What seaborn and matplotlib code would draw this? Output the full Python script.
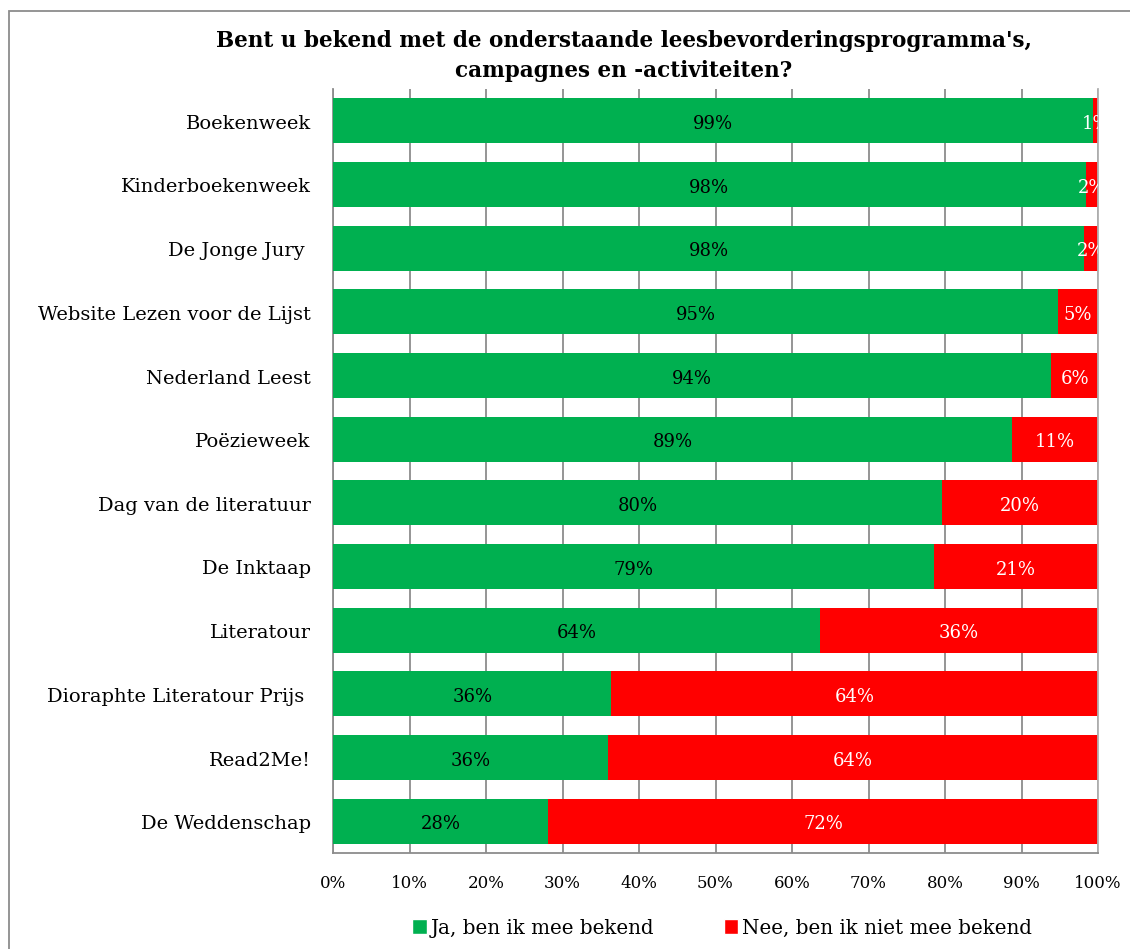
import matplotlib
matplotlib.use("Agg")
import matplotlib.pyplot as plt
import matplotlib.transforms as mtransforms
import seaborn as sns
import pandas as pd
import numpy as np
from matplotlib.patches import Rectangle, Patch
from matplotlib.ticker import FixedLocator

categories = ["Boekenweek", "Kinderboekenweek", "De Jonge Jury ", "Website Lezen voor de Lijst",
              "Nederland Leest", "Poëzieweek", "Dag van de literatuur", "De Inktaap",
              "Literatour", "Dioraphte Literatour Prijs ", "Read2Me!", "De Weddenschap"]
ja = [99.4, 98.4, 98.2, 94.8, 93.9, 88.8, 79.6, 78.6, 63.6, 36.4, 35.9, 28.1]
nee = [0.6, 1.6, 1.8, 5.2, 6.1, 11.2, 20.4, 21.4, 36.4, 63.6, 64.1, 71.9]
series_names = ["Ja, ben ik mee bekend", "Nee, ben ik niet mee bekend"]
xticks = [0, 10, 20, 30, 40, 50, 60, 70, 80, 90, 100]
title = "Bent u bekend met de onderstaande leesbevorderingsprogramma's,\ncampagnes en -activiteiten?"

GREEN = "#00B050"
RED = "#FF0000"

sns.set_style("white")
plt.rcParams["font.family"] = ["DejaVu Serif"]
plt.rcParams["text.color"] = "black"
plt.rcParams["xtick.color"] = "black"
plt.rcParams["ytick.color"] = "black"
plt.rcParams["axes.labelcolor"] = "black"

df = pd.DataFrame({"cat": categories, "ja": ja, "nee": nee})
df["total"] = df["ja"] + df["nee"]

fig = plt.figure(figsize=(11.3, 9.49), dpi=100)
ax = fig.add_axes([333/1130, 1-853/949, (1098-333)/1130, (853-89)/949])

sns.barplot(data=df, y="cat", x="total", color=RED, width=0.71, ax=ax,
            orient="h", saturation=1, zorder=2, edgecolor="none")
sns.barplot(data=df, y="cat", x="ja", color=GREEN, width=0.71, ax=ax,
            orient="h", saturation=1, zorder=3, edgecolor="none")

n = len(categories)
for i in range(n):
    ax.text(df["ja"][i] / 2, i + 0.05, f"{round(df['ja'][i])}%", ha="center", va="center",
            fontsize=13, color="black", zorder=5)
    ax.text(df["ja"][i] + df["nee"][i] / 2, i + 0.05, f"{round(df['nee'][i])}%", ha="center",
            va="center", fontsize=13, color="white", zorder=5, clip_on=True)

ax.set_xlim(0, 100)
ax.set_ylim(n - 0.5, -0.5)
ax.xaxis.set_major_locator(FixedLocator(xticks))
ax.set_xticklabels([f"{v}%" for v in xticks], fontsize=12)
ax.tick_params(axis="x", length=0, pad=16)
ax.grid(axis="x", color="#8c8c8c", linewidth=1.3, zorder=0)
ax.set_axisbelow(True)
ax.set_xlabel("")
ax.set_ylabel("")
ax.tick_params(axis="y", which="major", length=0, labelsize=14, pad=16)
shift = mtransforms.ScaledTranslation(0, -3/100, fig.dpi_scale_trans)
for lbl in ax.get_yticklabels():
    lbl.set_va("center")
    lbl.set_transform(lbl.get_transform() + shift)
ax.yaxis.set_minor_locator(FixedLocator(np.arange(-0.5, n, 1.0)))
ax.tick_params(axis="y", which="minor", length=7, width=1.3, color="#8c8c8c", direction="out")

for s in ["left", "bottom"]:
    ax.spines[s].set_color("#8c8c8c")
    ax.spines[s].set_linewidth(1.3)
ax.spines["top"].set_visible(False)
ax.spines["right"].set_color("#b0b0b0")
ax.spines["right"].set_linewidth(1.3)

fig.text(624/1130, 1-56/949, title, ha="center", va="center", fontsize=15.5,
         fontweight="bold", linespacing=1.5)

handles = [Patch(facecolor=GREEN, label=series_names[0]), Patch(facecolor=RED, label=series_names[1])]
fig.legend(handles=handles, loc="center", bbox_to_anchor=(722/1130, 1-928/949), ncol=2,
           frameon=False, fontsize=14.3, handlelength=0.75, handleheight=0.75,
           handletextpad=0.2, columnspacing=3.5)

fig.patches.append(Rectangle((9/1130, -0.01), 1.0, 1-11/949 + 0.01, transform=fig.transFigure,
                             fill=False, edgecolor="#8c8c8c", linewidth=1.3, zorder=0))

fig.savefig("out.png", dpi=100)
